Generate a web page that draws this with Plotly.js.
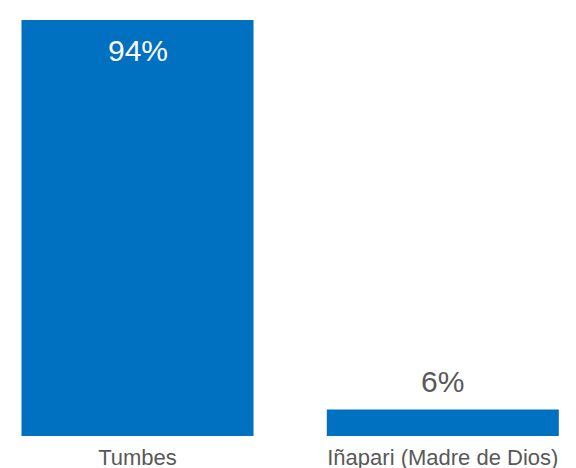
<!DOCTYPE html>
<html>
<head>
<meta charset="utf-8">
<script src="https://cdn.plot.ly/plotly-3.0.1.min.js"></script>
<style>html,body{margin:0;padding:0;background:#fff;}#chart{width:576px;height:468px;}</style>
</head>
<body>
<div id="chart"></div>
<script>
const categories = ["Tumbes", "Iñapari (Madre de Dios)"];
const values = [94, 6];
const valueLabels = ["94%", "6%"];

const barColor = "#0070C0";
const textGray = "#595959";

const annotations = values.map((v, i) => {
  const inside = v > 50;
  return {
    x: categories[i], y: v, xref: "x", yref: "y",
    text: valueLabels[i], showarrow: false,
    yanchor: inside ? "top" : "bottom",
    yshift: inside ? -12 : 9,
    font: {family: "Liberation Sans, Arial, sans-serif", size: 30, color: inside ? "#ffffff" : textGray}
  };
});

const data = [{
  type: "bar",
  x: categories,
  y: values,
  marker: {color: barColor},
  hoverinfo: "none"
}];

const layout = {
  width: 576, height: 468,
  margin: {l: 0, r: 0, t: 0, b: 32, pad: 0},
  paper_bgcolor: "#ffffff", plot_bgcolor: "#ffffff",
  bargap: 0.24,
  showlegend: false,
  xaxis: {
    type: "category",
    range: [-0.4504, 1.4363],
    showgrid: false, zeroline: false, showline: false, ticks: "",
    ticklabelstandoff: 6,
    tickfont: {family: "Liberation Sans, Arial, sans-serif", size: 22, color: textGray}
  },
  yaxis: {
    range: [0, 98.52],
    visible: false, showgrid: false, zeroline: false
  },
  annotations: annotations
};

Plotly.newPlot("chart", data, layout, {displayModeBar: false, staticPlot: true});
</script>
</body>
</html>
